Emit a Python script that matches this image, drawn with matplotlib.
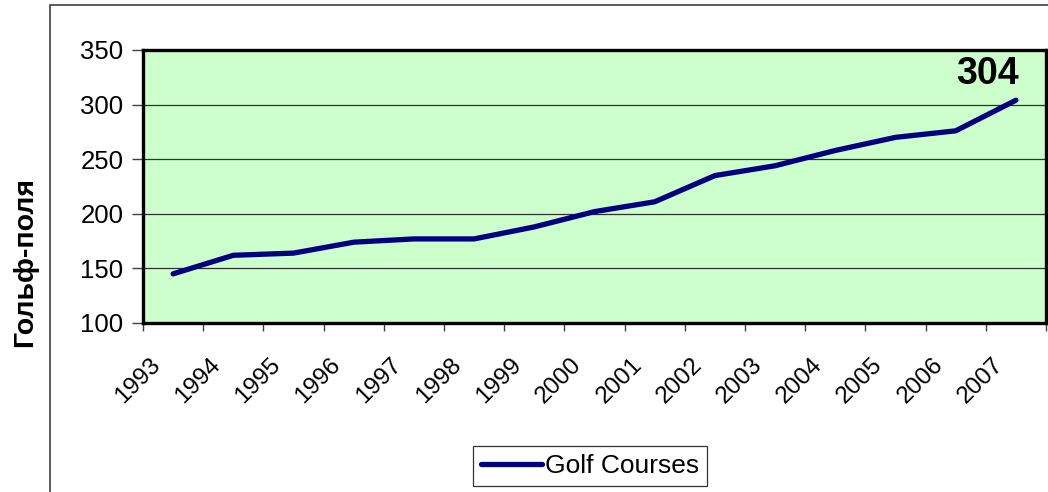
import numpy as np
import matplotlib
matplotlib.use("Agg")
import matplotlib.pyplot as plt
import matplotlib.transforms as mtransforms
from matplotlib.patches import Rectangle

# data
years = ["1993", "1994", "1995", "1996", "1997", "1998", "1999", "2000",
         "2001", "2002", "2003", "2004", "2005", "2006", "2007"]
courses = [145, 162, 164, 174, 177, 177, 188, 202, 211, 235, 244, 258, 270, 276, 304]
y_ticks = [100, 150, 200, 250, 300, 350]

plt.rcParams["font.family"] = ["Liberation Sans", "DejaVu Sans"]

fig = plt.figure(figsize=(10.48, 4.92), dpi=100)

# outer chart frame
fig.patches.append(Rectangle((50 / 1048, -0.1), 1.2, 1.1 - 5 / 492,
                             transform=fig.transFigure, fill=False,
                             edgecolor="#404040", linewidth=1.2))

ax = fig.add_axes([143 / 1048, 1 - 323 / 492, 903 / 1048, 273 / 492])
ax.set_facecolor("#CCFFCC")

x = np.arange(len(years)) + 0.5
ax.plot(x, courses, color="#000080", linewidth=3.8, solid_capstyle="round",
        label="Golf Courses", zorder=3)

ax.annotate(str(courses[-1]), (x[-1], courses[-1]), xytext=(2, 6),
            textcoords="offset points", ha="right", va="bottom",
            fontsize=27, fontweight="bold")

ax.set_xlim(0, len(years))
ax.set_ylim(100, 350)
ax.set_yticks(y_ticks)
ax.set_yticklabels([str(v) for v in y_ticks], fontsize=18.5)
ax.grid(axis="y", color="#303030", linewidth=0.9)
ax.set_axisbelow(True)

# ticks between categories, labels near the centres (Excel style)
ax.set_xticks(np.arange(len(years) + 1))
ax.set_xticklabels([])
ax.tick_params(axis="x", which="major", length=6, width=1, color="#404040")
ax.tick_params(axis="y", length=8, width=1, color="#404040", pad=6)
lbl_trans = ax.get_xaxis_transform() + mtransforms.ScaledTranslation(
    -0.24, -0.31, fig.dpi_scale_trans)
for xi, yr in zip(x, years):
    ax.text(xi, 0, yr, transform=lbl_trans, fontsize=17.5, rotation=45,
            ha="right", va="top", rotation_mode="anchor")

for s in ax.spines.values():
    s.set_linewidth(2.4)
    s.set_color("black")

fig.text(25 / 1048, 1 - 262 / 492, "Гольф-поля", rotation=90, ha="center",
         va="center", fontsize=20.5, fontweight="bold")

fig.legend(loc="center", bbox_to_anchor=(590 / 1048, 1 - 466 / 492),
           fontsize=19, frameon=True, fancybox=False, edgecolor="black",
           handlelength=2.3, handletextpad=0.1, borderpad=0.3,
           borderaxespad=0)
fig.legends[0].get_frame().set_linewidth(0.9)

fig.savefig("out.png", dpi=100)
